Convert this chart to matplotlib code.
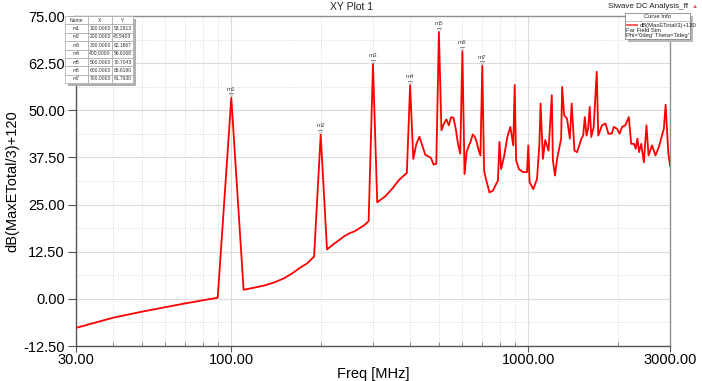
import matplotlib
matplotlib.use("Agg")
import matplotlib.pyplot as plt
from matplotlib.ticker import FixedLocator, MultipleLocator, NullFormatter
from matplotlib.patches import Rectangle
from matplotlib.lines import Line2D

plt.rcParams['font.family'] = ['Liberation Sans', 'DejaVu Sans']

# curve (MHz, dB)
freq = [30, 40, 50, 60, 70, 80, 90, 100, 110, 120, 130, 140, 150, 160, 170, 180, 190,
        200, 210, 220, 230, 240, 250, 260, 270, 280, 290, 300, 310, 320, 330, 340, 350,
        360, 370, 380, 390, 400, 410, 420, 430, 440, 450, 460, 470, 480, 490, 500, 510,
        520, 530, 540, 550, 560, 570, 580, 590, 600, 610, 620, 630, 640, 650, 660, 670,
        680, 690, 700, 710, 720, 740, 760, 780, 790, 800, 810, 830, 850, 870, 890, 900,
        910, 930, 960, 990, 1000, 1010, 1040, 1070, 1090, 1100, 1120, 1140, 1170, 1200,
        1210, 1230, 1250, 1290, 1300, 1320, 1350, 1380, 1400, 1430, 1460, 1510, 1530,
        1550, 1570, 1590, 1610, 1630, 1660, 1700, 1720, 1770, 1820, 1860, 1910, 1940,
        1990, 2030, 2070, 2120, 2180, 2220, 2270, 2300, 2330, 2360, 2400, 2450, 2500,
        2540, 2610, 2680, 2750, 2800, 2860, 2900, 2960, 3000]
level = [-7.7, -5.0, -3.4, -2.2, -1.2, -0.4, 0.3, 53.29, 2.4, 3.0, 3.6, 4.4, 5.4, 6.7, 8.2, 9.4, 11.2,
         43.54, 13.1, 14.4, 15.5, 16.6, 17.4, 17.9, 18.7, 19.5, 20.6, 62.19, 25.6, 26.4, 27.2, 28.3, 29.4,
         30.7, 31.8, 32.6, 33.4, 56.62, 37.1, 41.1, 43.0, 40.6, 38.2, 37.8, 37.4, 35.6, 35.8, 70.70, 44.7,
         46.5, 47.6, 46.0, 48.2, 48.0, 45.0, 41.0, 38.5, 65.62, 33.1, 39.0, 40.5, 41.8, 43.6, 43.0, 41.6,
         39.5, 38.0, 61.76, 34.0, 31.8, 28.2, 28.7, 30.5, 31.3, 41.6, 34.4, 38.0, 42.9, 45.6, 40.7, 56.7,
         36.7, 34.4, 33.6, 33.6, 40.7, 30.9, 29.1, 31.8, 41.1, 51.8, 37.1, 42.1, 39.3, 54.0,
         36.7, 32.7, 37.1, 42.5, 56.2, 48.7, 47.8, 42.5, 51.8, 39.3, 38.9, 42.5, 43.3,
         48.2, 43.3, 45.1, 50.9, 42.9, 45.6, 60.2, 43.3, 46.0, 46.5, 43.8, 43.8, 45.6,
         45.1, 43.8, 45.6, 46.0, 48.2, 41.1, 41.1, 39.8, 42.5, 38.9, 41.1, 36.2, 46.0,
         38.0, 40.7, 38.0, 40.2, 42.5, 45.1, 51.5, 38.9, 35.3]

marker_names = ['m1', 'm2', 'm3', 'm4', 'm5', 'm6', 'm7']
marker_freq = [100.0, 200.0, 300.0, 400.0, 500.0, 600.0, 700.0]
marker_level = [53.2913, 43.5403, 62.1867, 56.6168, 70.7043, 65.6190, 61.7630]

x_ticks = [30, 100, 1000, 3000]
x_tick_labels = ['30.00', '100.00', '1000.00', '3000.00']
x_minor = [40, 50, 60, 70, 80, 90, 200, 300, 400, 500, 600, 700, 800, 900, 2000]
y_ticks = [-12.5, 0, 12.5, 25, 37.5, 50, 62.5, 75]

W, H = 702, 381
fig = plt.figure(figsize=(W / 100, H / 100), dpi=100)
ax = fig.add_axes([76 / W, 1 - 346 / H, (670 - 76) / W, (346 - 16) / H])

ax.plot(freq, level, color='#ff0000', lw=1.3, zorder=3)

ax.set_xscale('log')
ax.set_xlim(30, 3000)
ax.set_ylim(-12.5, 75)
ax.xaxis.set_major_locator(FixedLocator(x_ticks))
ax.set_xticklabels(x_tick_labels)
ax.xaxis.set_minor_locator(FixedLocator(x_minor))
ax.xaxis.set_minor_formatter(NullFormatter())
ax.set_yticks(y_ticks)
ax.set_yticklabels(['%.2f' % v for v in y_ticks])
ax.yaxis.set_minor_locator(MultipleLocator(6.25))

ax.grid(which='major', color='#dcdcdc', lw=0.8)
ax.grid(which='minor', color='#d4d4d4', lw=0.7, ls=':')
ax.tick_params(which='major', labelsize=10.5, color='#555555', direction='out')
ax.tick_params(axis='y', which='major', length=6, pad=2)
ax.tick_params(axis='x', which='major', length=4, pad=1)
ax.tick_params(which='minor', length=3, color='#777777', direction='in')
ax.tick_params(axis='y', which='minor', length=0)
for s in ax.spines.values():
    s.set_color('#909090')
    s.set_linewidth(1.0)
ax.spines['left'].set_color('#555555')
ax.spines['bottom'].set_color('#555555')

ax.set_xlabel('Freq [MHz]', fontsize=10.5, labelpad=0)
ax.set_ylabel('dB(MaxETotal/3)+120', fontsize=10.5, labelpad=3)

# marker symbols and names
for name, f, v in zip(marker_names, marker_freq, marker_level):
    ax.annotate('▽', xy=(f, v), xytext=(0, -0.5), textcoords='offset points',
                ha='center', va='bottom', fontsize=4.5, color='#444444', zorder=4)
    ax.annotate(name, xy=(f, v), xytext=(0, 4.5), textcoords='offset points',
                ha='center', va='bottom', fontsize=4.5, color='#444444', zorder=4)

# titles
fig.text(352 / W, 1 - 7 / H, 'XY Plot 1', ha='center', va='center', fontsize=7.5, color='#222222')
fig.text(648 / W, 1 - 7 / H, 'Slwave DC Analysis_ff', ha='center', va='center', fontsize=5.8, color='#222222')
fig.text(695 / W, 1 - 7 / H, '▲', ha='center', va='center', fontsize=4.5, color='#e05a5a')

# marker table
tab_ax = fig.add_axes([65 / W, 1 - 83 / H, 68 / W, 67 / H])
tab_ax.set_axis_off()
fig.patches.append(Rectangle((68 / W, 1 - 86 / H), 68 / W, 67 / H, transform=fig.transFigure,
                             facecolor='#b0b0b0', edgecolor='none', zorder=1))
rows = [[n, '%.4f' % f, '%.4f' % v] for n, f, v in zip(marker_names, marker_freq, marker_level)]
tbl = tab_ax.table(cellText=rows, colLabels=['Name', 'X', 'Y'], bbox=[0, 0, 1, 1],
                   colWidths=[23, 24, 21], cellLoc='center')
tbl.auto_set_font_size(False)
tbl.set_fontsize(3.6)
for cell in tbl.get_celld().values():
    cell.set_edgecolor('#a8a8a8')
    cell.set_linewidth(0.5)
    cell.set_facecolor('white')
    cell.get_text().set_color('#333333')
tab_ax.set_zorder(5)

# curve info box
fig.patches.append(Rectangle((628 / W, 1 - 42 / H), 65 / W, 26 / H, transform=fig.transFigure,
                             facecolor='#b8b8b8', edgecolor='none', zorder=6))
fig.patches.append(Rectangle((625 / W, 1 - 39 / H), 65 / W, 26 / H, transform=fig.transFigure,
                             facecolor='white', edgecolor='#888888', lw=0.6, zorder=7))
fig.lines.append(Line2D([625 / W, 690 / W], [1 - 21 / H, 1 - 21 / H], transform=fig.transFigure,
                        color='#aaaaaa', lw=0.5, zorder=8))
fig.text(657 / W, 1 - 17 / H, 'Curve Info', ha='center', va='center', fontsize=4.2, color='#222222', zorder=8)
fig.lines.append(Line2D([627 / W, 637 / W], [1 - 25 / H, 1 - 25 / H], transform=fig.transFigure,
                        color='#ff6060', lw=1.5, zorder=8))
fig.text(640 / W, 1 - 25 / H, 'dB(MaxETotal/3)+120', ha='left', va='center', fontsize=4.2, color='#222222', zorder=8)
fig.text(626 / W, 1 - 30 / H, 'Far Field Sim', ha='left', va='center', fontsize=4.2, color='#222222', zorder=8)
fig.text(626 / W, 1 - 35 / H, "Phi='0deg' Theta='0deg'", ha='left', va='center', fontsize=4.2, color='#222222', zorder=8)

plt.savefig('out.png', dpi=100)
